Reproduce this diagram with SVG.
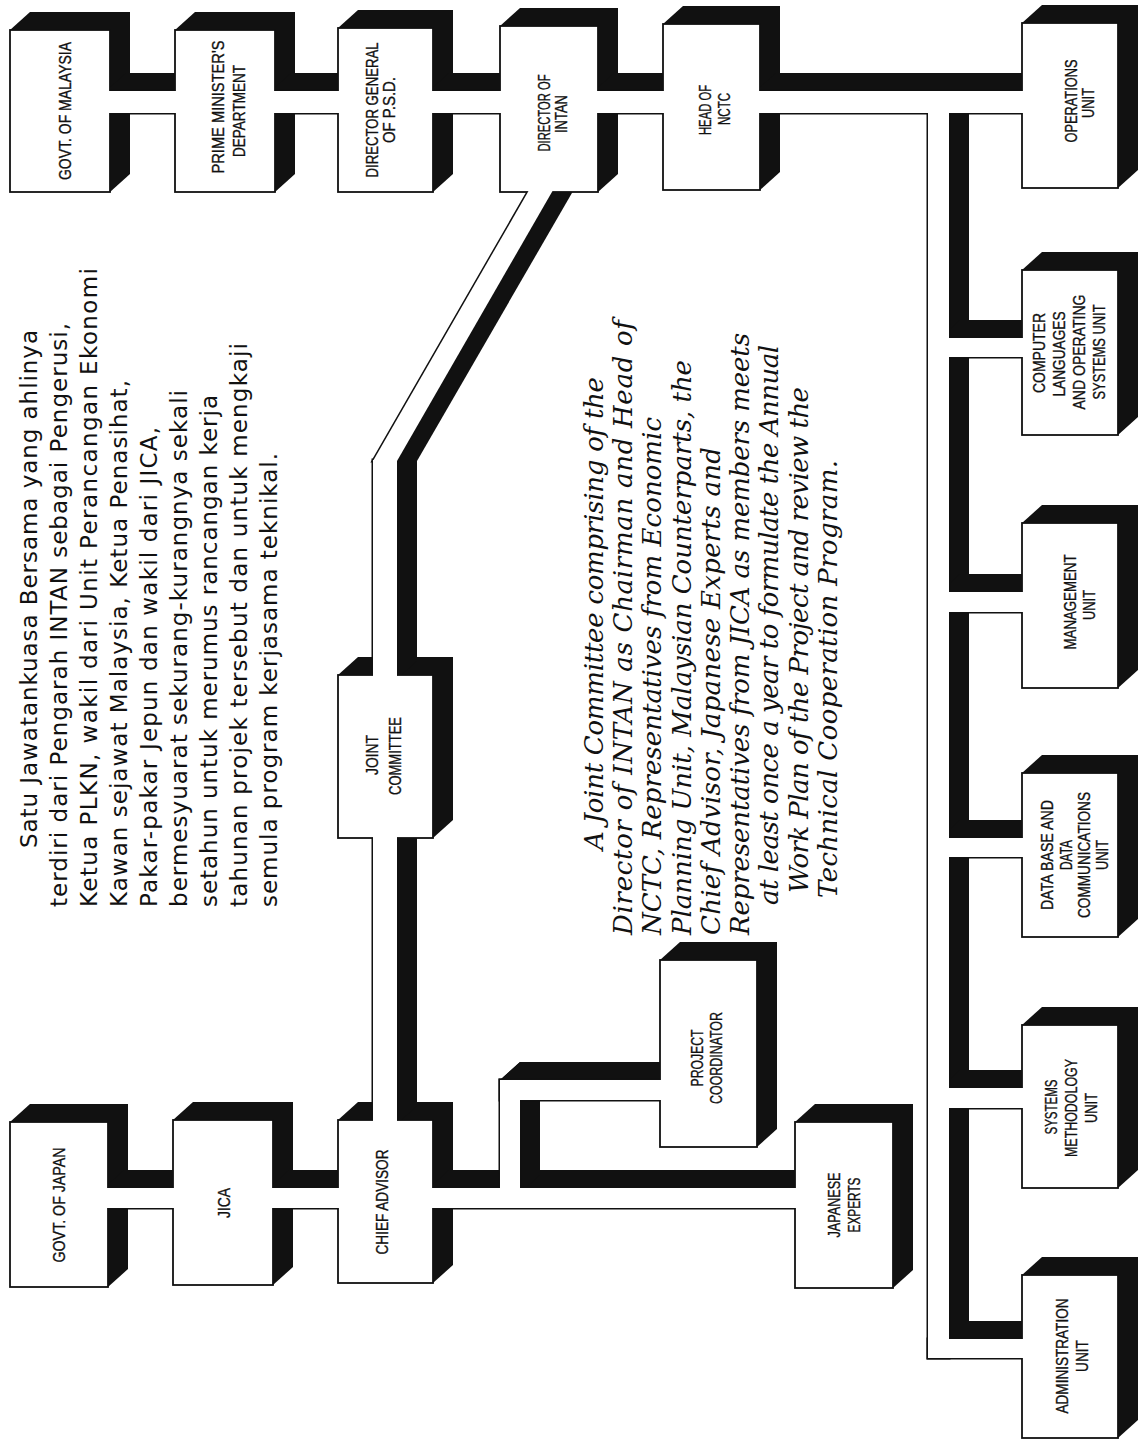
<svg xmlns="http://www.w3.org/2000/svg" width="1139" height="1440" viewBox="0 0 1139 1440">
<style>
.sh{fill:#111}
.fc{fill:#fff;stroke:#111;stroke-width:1.8}
.cs{fill:#fff;stroke:#111;stroke-width:3}
.cf{fill:#fff}
.lb{font-family:"Liberation Sans Narrow","Liberation Sans",Arial,sans-serif;font-size:16.5px;fill:#111;stroke:#111;stroke-width:0.35;text-anchor:middle}
.my{font-family:"DejaVu Sans","Liberation Sans",sans-serif;font-size:23px;fill:#111}
.en{font-family:"DejaVu Serif","Liberation Serif",serif;font-style:italic;font-size:26px;fill:#111}
</style>
<defs>
<mask id="nf" maskUnits="userSpaceOnUse" x="0" y="0" width="1139" height="1440">
<rect x="0" y="0" width="1139" height="1440" fill="#fff"/>
<g fill="#000">
<rect x="10" y="30" width="100" height="162"/>
<rect x="175" y="30" width="100" height="162"/>
<rect x="338" y="28" width="95" height="164"/>
<rect x="500" y="26" width="98" height="166"/>
<rect x="663" y="24" width="97" height="166"/>
<rect x="1022" y="23" width="96" height="165"/>
<rect x="1022" y="270" width="96" height="165"/>
<rect x="1022" y="523" width="96" height="165"/>
<rect x="1022" y="773" width="96" height="164"/>
<rect x="1022" y="1025" width="96" height="163"/>
<rect x="1022" y="1275" width="96" height="163"/>
<rect x="10" y="1122" width="98" height="165"/>
<rect x="173" y="1120" width="100" height="165"/>
<rect x="338" y="1120" width="95" height="163"/>
<rect x="795" y="1122" width="98" height="166"/>
<rect x="338" y="675" width="95" height="163"/>
<rect x="660" y="960" width="97" height="187"/>
</g>
</mask>
</defs>
<rect x="0" y="0" width="1139" height="1440" fill="#fff"/>

<g id="n-govt-malaysia">
<polygon class="sh" points="10,30 30,12 130,12 130,174 110,192 10,192"/>
<rect class="fc" x="10" y="30" width="100" height="162"/>
<text class="lb" transform="translate(71,111) rotate(-90)" textLength="138" lengthAdjust="spacingAndGlyphs">GOVT. OF MALAYSIA</text>
</g>
<g id="n-prime-minister">
<polygon class="sh" points="175,30 195,12 295,12 295,174 275,192 175,192"/>
<rect class="fc" x="175" y="30" width="100" height="162"/>
<text class="lb" transform="translate(224,107) rotate(-90)" textLength="133" lengthAdjust="spacingAndGlyphs">PRIME MINISTER'S</text>
<text class="lb" transform="translate(245,111) rotate(-90)" textLength="92" lengthAdjust="spacingAndGlyphs">DEPARTMENT</text>
</g>
<g id="n-director-general">
<polygon class="sh" points="338,28 358,10 453,10 453,174 433,192 338,192"/>
<rect class="fc" x="338" y="28" width="95" height="164"/>
<text class="lb" transform="translate(378,110) rotate(-90)" textLength="135" lengthAdjust="spacingAndGlyphs">DIRECTOR GENERAL</text>
<text class="lb" transform="translate(395,110) rotate(-90)" textLength="66" lengthAdjust="spacingAndGlyphs">OF P.S.D.</text>
</g>
<g id="n-director-intan">
<polygon class="sh" points="500,26 520,8 618,8 618,174 598,192 500,192"/>
<rect class="fc" x="500" y="26" width="98" height="166"/>
<text class="lb" transform="translate(550,113) rotate(-90)" textLength="77" lengthAdjust="spacingAndGlyphs">DIRECTOR OF</text>
<text class="lb" transform="translate(567,114) rotate(-90)" textLength="38" lengthAdjust="spacingAndGlyphs">INTAN</text>
</g>
<g id="n-head-nctc">
<polygon class="sh" points="663,24 683,6 780,6 780,172 760,190 663,190"/>
<rect class="fc" x="663" y="24" width="97" height="166"/>
<text class="lb" transform="translate(711,110) rotate(-90)" textLength="50" lengthAdjust="spacingAndGlyphs">HEAD OF</text>
<text class="lb" transform="translate(730,109) rotate(-90)" textLength="32" lengthAdjust="spacingAndGlyphs">NCTC</text>
</g>
<g id="n-operations">
<polygon class="sh" points="1022,23 1042,5 1138,5 1138,170 1118,188 1022,188"/>
<rect class="fc" x="1022" y="23" width="96" height="165"/>
<text class="lb" transform="translate(1077,101) rotate(-90)" textLength="83" lengthAdjust="spacingAndGlyphs">OPERATIONS</text>
<text class="lb" transform="translate(1094,103) rotate(-90)" textLength="30" lengthAdjust="spacingAndGlyphs">UNIT</text>
</g>
<g id="n-computer-languages">
<polygon class="sh" points="1022,270 1042,252 1138,252 1138,417 1118,435 1022,435"/>
<rect class="fc" x="1022" y="270" width="96" height="165"/>
<text class="lb" transform="translate(1045,353) rotate(-90)" textLength="80" lengthAdjust="spacingAndGlyphs">COMPUTER</text>
<text class="lb" transform="translate(1065,354) rotate(-90)" textLength="85" lengthAdjust="spacingAndGlyphs">LANGUAGES</text>
<text class="lb" transform="translate(1085,352) rotate(-90)" textLength="115" lengthAdjust="spacingAndGlyphs">AND OPERATING</text>
<text class="lb" transform="translate(1105,352) rotate(-90)" textLength="95" lengthAdjust="spacingAndGlyphs">SYSTEMS UNIT</text>
</g>
<g id="n-management">
<polygon class="sh" points="1022,523 1042,505 1138,505 1138,670 1118,688 1022,688"/>
<rect class="fc" x="1022" y="523" width="96" height="165"/>
<text class="lb" transform="translate(1076,602) rotate(-90)" textLength="95" lengthAdjust="spacingAndGlyphs">MANAGEMENT</text>
<text class="lb" transform="translate(1095,605) rotate(-90)" textLength="30" lengthAdjust="spacingAndGlyphs">UNIT</text>
</g>
<g id="n-database">
<polygon class="sh" points="1022,773 1042,755 1138,755 1138,919 1118,937 1022,937"/>
<rect class="fc" x="1022" y="773" width="96" height="164"/>
<text class="lb" transform="translate(1053,855) rotate(-90)" textLength="110" lengthAdjust="spacingAndGlyphs">DATA BASE AND</text>
<text class="lb" transform="translate(1072,855) rotate(-90)" textLength="30" lengthAdjust="spacingAndGlyphs">DATA</text>
<text class="lb" transform="translate(1090,855) rotate(-90)" textLength="126" lengthAdjust="spacingAndGlyphs">COMMUNICATIONS</text>
<text class="lb" transform="translate(1108,855) rotate(-90)" textLength="30" lengthAdjust="spacingAndGlyphs">UNIT</text>
</g>
<g id="n-systems-methodology">
<polygon class="sh" points="1022,1025 1042,1007 1138,1007 1138,1170 1118,1188 1022,1188"/>
<rect class="fc" x="1022" y="1025" width="96" height="163"/>
<text class="lb" transform="translate(1057,1107) rotate(-90)" textLength="55" lengthAdjust="spacingAndGlyphs">SYSTEMS</text>
<text class="lb" transform="translate(1077,1108) rotate(-90)" textLength="98" lengthAdjust="spacingAndGlyphs">METHODOLOGY</text>
<text class="lb" transform="translate(1097,1108) rotate(-90)" textLength="30" lengthAdjust="spacingAndGlyphs">UNIT</text>
</g>
<g id="n-administration">
<polygon class="sh" points="1022,1275 1042,1257 1138,1257 1138,1420 1118,1438 1022,1438"/>
<rect class="fc" x="1022" y="1275" width="96" height="163"/>
<text class="lb" transform="translate(1068,1356) rotate(-90)" textLength="115" lengthAdjust="spacingAndGlyphs">ADMINISTRATION</text>
<text class="lb" transform="translate(1088,1356) rotate(-90)" textLength="32" lengthAdjust="spacingAndGlyphs">UNIT</text>
</g>
<g id="n-govt-japan">
<polygon class="sh" points="10,1122 30,1104 128,1104 128,1269 108,1287 10,1287"/>
<rect class="fc" x="10" y="1122" width="98" height="165"/>
<text class="lb" transform="translate(65,1205) rotate(-90)" textLength="115" lengthAdjust="spacingAndGlyphs">GOVT. OF JAPAN</text>
</g>
<g id="n-jica">
<polygon class="sh" points="173,1120 193,1102 293,1102 293,1267 273,1285 173,1285"/>
<rect class="fc" x="173" y="1120" width="100" height="165"/>
<text class="lb" transform="translate(230,1203) rotate(-90)" textLength="30" lengthAdjust="spacingAndGlyphs">JICA</text>
</g>
<g id="n-chief-advisor">
<polygon class="sh" points="338,1120 358,1102 453,1102 453,1265 433,1283 338,1283"/>
<rect class="fc" x="338" y="1120" width="95" height="163"/>
<text class="lb" transform="translate(388,1202) rotate(-90)" textLength="105" lengthAdjust="spacingAndGlyphs">CHIEF ADVISOR</text>
</g>
<g id="n-japanese-experts">
<polygon class="sh" points="795,1122 815,1104 913,1104 913,1270 893,1288 795,1288"/>
<rect class="fc" x="795" y="1122" width="98" height="166"/>
<text class="lb" transform="translate(840,1205) rotate(-90)" textLength="65" lengthAdjust="spacingAndGlyphs">JAPANESE</text>
<text class="lb" transform="translate(860,1205) rotate(-90)" textLength="55" lengthAdjust="spacingAndGlyphs">EXPERTS</text>
</g>
<g id="n-joint-committee">
<polygon class="sh" points="338,675 358,657 453,657 453,820 433,838 338,838"/>
<rect class="fc" x="338" y="675" width="95" height="163"/>
<text class="lb" transform="translate(378,755) rotate(-90)" textLength="40" lengthAdjust="spacingAndGlyphs">JOINT</text>
<text class="lb" transform="translate(401,756) rotate(-90)" textLength="78" lengthAdjust="spacingAndGlyphs">COMMITTEE</text>
</g>
<g id="n-project-coordinator">
<polygon class="sh" points="660,960 680,942 777,942 777,1129 757,1147 660,1147"/>
<rect class="fc" x="660" y="960" width="97" height="187"/>
<text class="lb" transform="translate(703,1058) rotate(-90)" textLength="57" lengthAdjust="spacingAndGlyphs">PROJECT</text>
<text class="lb" transform="translate(722,1058) rotate(-90)" textLength="92" lengthAdjust="spacingAndGlyphs">COORDINATOR</text>
</g>

<g id="connectors">
<g mask="url(#nf)" class="sh">
<polygon points="106,91 126,73 199,73 199,95 179,113 106,113"/>
<polygon points="271,91 291,73 362,73 362,95 342,113 271,113"/>
<polygon points="429,91 449,73 524,73 524,95 504,113 429,113"/>
<polygon points="594,91 614,73 687,73 687,95 667,113 594,113"/>
<polygon points="756,91 776,73 1046,73 1046,95 1026,113 756,113"/>
<polygon points="928,105 948,87 969,87 969,1340 949,1358 928,1358"/>
<polygon points="928,1339 948,1321 1046,1321 1046,1340 1026,1358 928,1358"/>
<polygon points="940,338 960,320 1046,320 1046,339 1026,357 940,357"/>
<polygon points="940,592 960,574 1046,574 1046,594 1026,612 940,612"/>
<polygon points="940,838 960,820 1046,820 1046,839 1026,857 940,857"/>
<polygon points="940,1088 960,1070 1046,1070 1046,1090 1026,1108 940,1108"/>
<polygon points="104,1188 124,1170 197,1170 197,1190 177,1208 104,1208"/>
<polygon points="269,1188 289,1170 362,1170 362,1190 342,1208 269,1208"/>
<polygon points="429,1188 449,1170 819,1170 819,1190 799,1208 429,1208"/>
<polygon points="373,834 393,816 417,816 417,1106 397,1124 373,1124"/>
<polygon points="373,460 393,442 417,442 417,661 397,679 373,679"/>
<polygon points="397,461 555.4,186 576,186 417,461"/>
<polygon points="500,1080 520,1062 540,1062 540,1175 520,1193 500,1193"/>
<polygon points="500,1080 520,1062 684,1062 684,1082 664,1100 500,1100"/>
</g>
<g mask="url(#nf)" class="cs">
<rect x="106" y="91" width="73" height="22"/>
<rect x="271" y="91" width="71" height="22"/>
<rect x="429" y="91" width="75" height="22"/>
<rect x="594" y="91" width="73" height="22"/>
<rect x="756" y="91" width="270" height="22"/>
<rect x="928" y="105" width="21" height="1253"/>
<rect x="928" y="1339" width="98" height="19"/>
<rect x="940" y="338" width="86" height="19"/>
<rect x="940" y="592" width="86" height="20"/>
<rect x="940" y="838" width="86" height="19"/>
<rect x="940" y="1088" width="86" height="20"/>
<rect x="104" y="1188" width="73" height="20"/>
<rect x="269" y="1188" width="73" height="20"/>
<rect x="429" y="1188" width="370" height="20"/>
<rect x="373" y="834" width="24" height="290"/>
<rect x="373" y="460" width="24" height="219"/>
<polygon points="373,461 397,461 555.4,186 531.4,186"/>
<rect x="500" y="1080" width="20" height="113"/>
<rect x="500" y="1080" width="164" height="20"/>
</g>
<g class="cf">
<rect x="106" y="91" width="73" height="22"/>
<rect x="271" y="91" width="71" height="22"/>
<rect x="429" y="91" width="75" height="22"/>
<rect x="594" y="91" width="73" height="22"/>
<rect x="756" y="91" width="270" height="22"/>
<rect x="928" y="105" width="21" height="1253"/>
<rect x="928" y="1339" width="98" height="19"/>
<rect x="940" y="338" width="86" height="19"/>
<rect x="940" y="592" width="86" height="20"/>
<rect x="940" y="838" width="86" height="19"/>
<rect x="940" y="1088" width="86" height="20"/>
<rect x="104" y="1188" width="73" height="20"/>
<rect x="269" y="1188" width="73" height="20"/>
<rect x="429" y="1188" width="370" height="20"/>
<rect x="373" y="834" width="24" height="290"/>
<rect x="373" y="460" width="24" height="219"/>
<polygon points="373,461 397,461 555.4,186 531.4,186"/>
<rect x="500" y="1080" width="20" height="113"/>
<rect x="500" y="1080" width="164" height="20"/>
</g>
</g>

<g id="text-malay">
<text class="my" transform="translate(37,848) rotate(-90)" textLength="518" lengthAdjust="spacing">Satu Jawatankuasa Bersama yang ahlinya</text>
<text class="my" transform="translate(67,907) rotate(-90)" textLength="584" lengthAdjust="spacing">terdiri dari Pengarah INTAN sebagai Pengerusi,</text>
<text class="my" transform="translate(97,907) rotate(-90)" textLength="639" lengthAdjust="spacing">Ketua PLKN, wakil dari Unit Perancangan Ekonomi</text>
<text class="my" transform="translate(127,907) rotate(-90)" textLength="527" lengthAdjust="spacing">Kawan sejawat Malaysia, Ketua Penasihat,</text>
<text class="my" transform="translate(157,907) rotate(-90)" textLength="480" lengthAdjust="spacing">Pakar-pakar Jepun dan wakil dari JICA,</text>
<text class="my" transform="translate(187,907) rotate(-90)" textLength="517" lengthAdjust="spacing">bermesyuarat sekurang-kurangnya sekali</text>
<text class="my" transform="translate(217,907) rotate(-90)" textLength="512" lengthAdjust="spacing">setahun untuk merumus rancangan kerja</text>
<text class="my" transform="translate(247,907) rotate(-90)" textLength="564" lengthAdjust="spacing">tahunan projek tersebut dan untuk mengkaji</text>
<text class="my" transform="translate(277,907) rotate(-90)" textLength="454" lengthAdjust="spacing">semula program kerjasama teknikal.</text>
</g>

<g id="text-english">
<text class="en" transform="translate(603,850) rotate(-90)" textLength="473" lengthAdjust="spacing">A Joint Committee comprising of the</text>
<text class="en" transform="translate(632,935) rotate(-90)" textLength="615" lengthAdjust="spacing">Director of INTAN as Chairman and Head of</text>
<text class="en" transform="translate(661,935) rotate(-90)" textLength="518" lengthAdjust="spacing">NCTC, Representatives from Economic</text>
<text class="en" transform="translate(691,935) rotate(-90)" textLength="575" lengthAdjust="spacing">Planning Unit, Malaysian Counterparts, the</text>
<text class="en" transform="translate(720,935) rotate(-90)" textLength="488" lengthAdjust="spacing">Chief Advisor, Japanese Experts and</text>
<text class="en" transform="translate(749,935) rotate(-90)" textLength="602" lengthAdjust="spacing">Representatives from JICA as members meets</text>
<text class="en" transform="translate(778,905) rotate(-90)" textLength="560" lengthAdjust="spacing">at least once a year to formulate the Annual</text>
<text class="en" transform="translate(808,893) rotate(-90)" textLength="506" lengthAdjust="spacing">Work Plan of the Project and review the</text>
<text class="en" transform="translate(837,898) rotate(-90)" textLength="438" lengthAdjust="spacing">Technical Cooperation Program.</text>
</g>
</svg>
